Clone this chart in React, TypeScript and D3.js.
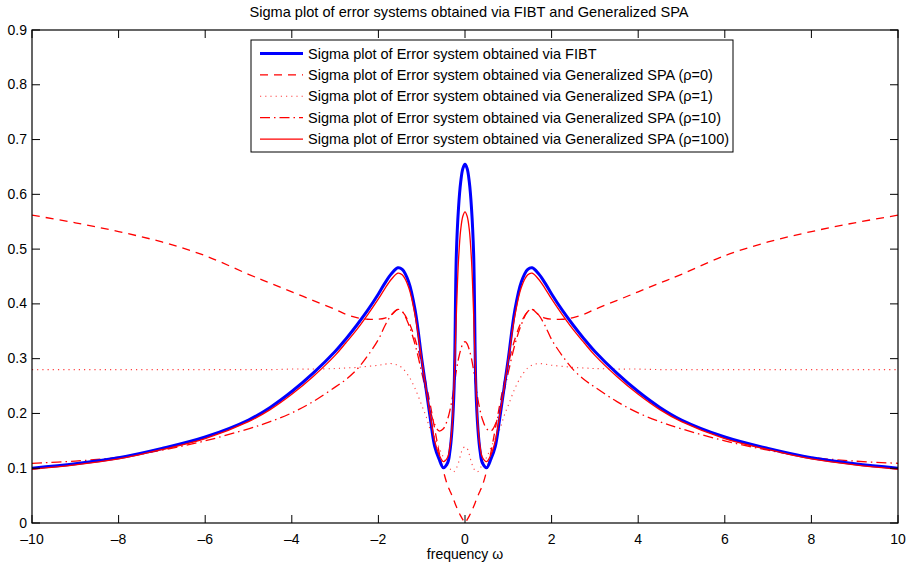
import React from "react";
import * as d3 from "d3";

const frequency = [-10, -9, -8, -7, -6, -5, -4.5, -4, -3.5, -3, -2.75, -2.5, -2.25, -2, -1.85, -1.7, -1.55, -1.45, -1.3, -1.15, -1, -0.9, -0.8, -0.7, -0.6, -0.5, -0.4, -0.35, -0.3, -0.25, -0.2, -0.15, -0.1, -0.05, 0, 0.05, 0.1, 0.15, 0.2, 0.25, 0.3, 0.35, 0.4, 0.5, 0.6, 0.7, 0.8, 0.9, 1, 1.15, 1.3, 1.45, 1.55, 1.7, 1.85, 2, 2.25, 2.5, 2.75, 3, 3.5, 4, 4.5, 5, 6, 7, 8, 9, 10];

const fibt = [0.100, 0.108, 0.119, 0.136, 0.157, 0.188, 0.211, 0.240, 0.274, 0.313, 0.336, 0.361, 0.388, 0.418, 0.438, 0.455, 0.466, 0.463, 0.44, 0.388, 0.30, 0.245, 0.19, 0.14, 0.117, 0.101, 0.11, 0.13, 0.17, 0.25, 0.49, 0.575, 0.622, 0.647,
  0.655, 0.647, 0.622, 0.575, 0.49, 0.25, 0.17, 0.13, 0.11, 0.101, 0.117, 0.14, 0.19, 0.245, 0.30, 0.388, 0.44, 0.463, 0.466, 0.455, 0.438, 0.418, 0.388, 0.361, 0.336, 0.313, 0.274, 0.240, 0.211, 0.188, 0.157, 0.136, 0.119, 0.108, 0.100];

const spaRho0 = [0.562, 0.548, 0.532, 0.513, 0.488, 0.454, 0.438, 0.422, 0.406, 0.39, 0.381, 0.375, 0.372, 0.372, 0.374, 0.38, 0.39, 0.386, 0.367, 0.335, 0.29, 0.255, 0.215, 0.172, 0.13, 0.095, 0.068, 0.059, 0.05, 0.04, 0.03, 0.021, 0.013, 0.006,
  0, 0.006, 0.013, 0.021, 0.03, 0.04, 0.05, 0.059, 0.068, 0.095, 0.13, 0.172, 0.215, 0.255, 0.29, 0.335, 0.367, 0.386, 0.39, 0.38, 0.374, 0.372, 0.372, 0.375, 0.381, 0.39, 0.406, 0.422, 0.438, 0.454, 0.488, 0.513, 0.532, 0.548, 0.562];

const spaRho1 = [0.28, 0.28, 0.28, 0.28, 0.28, 0.28, 0.28, 0.281, 0.281, 0.282, 0.283, 0.284, 0.286, 0.288, 0.29, 0.291, 0.288, 0.283, 0.268, 0.245, 0.215, 0.195, 0.17, 0.155, 0.138, 0.12, 0.106, 0.1, 0.094, 0.094, 0.1, 0.11, 0.125, 0.136,
  0.139, 0.136, 0.125, 0.11, 0.1, 0.094, 0.094, 0.1, 0.106, 0.12, 0.138, 0.155, 0.17, 0.195, 0.215, 0.245, 0.268, 0.283, 0.288, 0.291, 0.29, 0.288, 0.286, 0.284, 0.283, 0.282, 0.281, 0.281, 0.28, 0.28, 0.28, 0.28, 0.28, 0.28, 0.28];

const spaRho10 = [0.109, 0.113, 0.12, 0.133, 0.15, 0.172, 0.185, 0.201, 0.222, 0.248, 0.262, 0.28, 0.305, 0.335, 0.36, 0.38, 0.39, 0.386, 0.362, 0.325, 0.275, 0.24, 0.205, 0.18, 0.168, 0.172, 0.19, 0.205, 0.225, 0.25, 0.278, 0.30, 0.316, 0.327,
  0.331, 0.327, 0.316, 0.30, 0.278, 0.25, 0.225, 0.205, 0.19, 0.172, 0.168, 0.18, 0.205, 0.24, 0.275, 0.325, 0.362, 0.386, 0.39, 0.38, 0.36, 0.335, 0.305, 0.28, 0.262, 0.248, 0.222, 0.201, 0.185, 0.172, 0.15, 0.133, 0.12, 0.113, 0.109];

const spaRho100 = [0.098, 0.106, 0.117, 0.134, 0.154, 0.185, 0.207, 0.235, 0.268, 0.306, 0.329, 0.353, 0.380, 0.409, 0.428, 0.445, 0.456, 0.453, 0.43, 0.378, 0.298, 0.245, 0.195, 0.15, 0.125, 0.112, 0.12, 0.138, 0.175, 0.26, 0.38, 0.48, 0.535, 0.56,
  0.568, 0.56, 0.535, 0.48, 0.38, 0.26, 0.175, 0.138, 0.12, 0.112, 0.125, 0.15, 0.195, 0.245, 0.298, 0.378, 0.43, 0.453, 0.456, 0.445, 0.428, 0.409, 0.380, 0.353, 0.329, 0.306, 0.268, 0.235, 0.207, 0.185, 0.154, 0.134, 0.117, 0.106, 0.098];

const xTicks = [-10, -8, -6, -4, -2, 0, 2, 4, 6, 8, 10];
const yTicks = [0, 0.1, 0.2, 0.3, 0.4, 0.5, 0.6, 0.7, 0.8, 0.9];

const legendLabels = [
  "Sigma plot of Error system obtained via FIBT",
  "Sigma plot of Error system obtained via Generalized SPA (\u03c1=0)",
  "Sigma plot of Error system obtained via Generalized SPA (\u03c1=1)",
  "Sigma plot of Error system obtained via Generalized SPA (\u03c1=10)",
  "Sigma plot of Error system obtained via Generalized SPA (\u03c1=100)",
];

const titleText = "Sigma plot of error systems obtained via FIBT and Generalized SPA";
const xLabelText = "frequency \u03c9";

const W = 913, H = 565;
const M = { left: 32, right: 898, top: 30, bottom: 523 };
const FONT = "'Liberation Sans', Arial, Helvetica, sans-serif";

const styles = [
  { stroke: "#0000ff", width: 3, dash: undefined, opacity: 1 },
  { stroke: "#ff0000", width: 1.3, dash: "8,6", opacity: 1 },
  { stroke: "#ff0000", width: 1.1, dash: "1.2,4", opacity: 0.75 },
  { stroke: "#ff0000", width: 1.3, dash: "10,4,1.5,4", opacity: 1 },
  { stroke: "#ff0000", width: 1.3, dash: undefined, opacity: 1 },
];

export default function App() {
  const x = d3.scaleLinear().domain([-10, 10]).range([M.left, M.right]);
  const y = d3.scaleLinear().domain([0, 0.9]).range([M.bottom, M.top]);
  const line = d3
    .line<number>()
    .x((_, i) => x(frequency[i]))
    .y((d) => y(d))
    .curve(d3.curveCatmullRom.alpha(0.5));

  const series = [fibt, spaRho0, spaRho1, spaRho10, spaRho100];
  const order = [1, 2, 3, 0, 4];

  const legend = { x: 251, y: 40, w: 482, h: 112, row0: 53.5, dy: 21.4 };

  return (
    <svg width={W} height={H} style={{ position: "absolute", left: 0, top: 0, background: "#fff" }} fontFamily={FONT}>
      <rect x={0} y={0} width={W} height={H} fill="#fff" />
      <text x={469} y={17} textAnchor="middle" fontSize={14.6}>{titleText}</text>
      <defs>
        <clipPath id="plotclip">
          <rect x={M.left} y={M.top} width={M.right - M.left} height={M.bottom - M.top} />
        </clipPath>
      </defs>
      <g clipPath="url(#plotclip)">
        {order.map((k) => (
          <path
            key={k}
            d={line(series[k]) || ""}
            fill="none"
            stroke={styles[k].stroke}
            strokeWidth={styles[k].width}
            strokeDasharray={styles[k].dash}
            strokeOpacity={styles[k].opacity}
            strokeLinejoin="round"
          />
        ))}
      </g>
      <rect x={M.left} y={M.top} width={M.right - M.left} height={M.bottom - M.top} fill="none" stroke="#000" strokeWidth={1.2} />
      {xTicks.map((t) => (
        <g key={"x" + t}>
          <line x1={x(t)} x2={x(t)} y1={M.bottom} y2={M.bottom - 8} stroke="#000" strokeWidth={1} />
          <line x1={x(t)} x2={x(t)} y1={M.top} y2={M.top + 8} stroke="#000" strokeWidth={1} />
          <text x={x(t)} y={M.bottom + 21} textAnchor="middle" fontSize={14}>
            {t < 0 ? "\u2013" + Math.abs(t) : String(t)}
          </text>
        </g>
      ))}
      {yTicks.map((t) => (
        <g key={"y" + t}>
          <line x1={M.left} x2={M.left + 8} y1={y(t)} y2={y(t)} stroke="#000" strokeWidth={1} />
          <line x1={M.right} x2={M.right - 8} y1={y(t)} y2={y(t)} stroke="#000" strokeWidth={1} />
          <text x={M.left - 5} y={y(t) + 4.5} textAnchor="end" fontSize={14}>
            {t === 0 ? "0" : t.toFixed(1)}
          </text>
        </g>
      ))}
      <text x={(M.left + M.right) / 2} y={559} textAnchor="middle" fontSize={14}>{xLabelText}</text>
      <rect x={legend.x} y={legend.y} width={legend.w} height={legend.h} fill="#fff" stroke="#000" strokeWidth={1} />
      {legendLabels.map((lab, i) => {
        const ly = legend.row0 + i * legend.dy;
        return (
          <g key={"l" + i}>
            <line x1={legend.x + 9} x2={legend.x + 52} y1={ly} y2={ly} stroke={styles[i].stroke} strokeWidth={styles[i].width} strokeDasharray={styles[i].dash} strokeOpacity={styles[i].opacity} />
            <text x={legend.x + 57} y={ly + 5} fontSize={14.5}>{lab}</text>
          </g>
        );
      })}
    </svg>
  );
}
